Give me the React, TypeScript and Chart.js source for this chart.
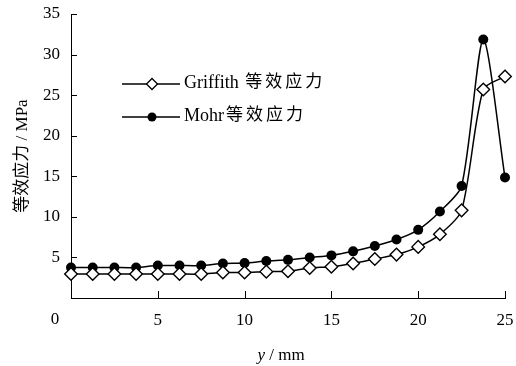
import React, { useEffect, useRef } from 'react';
import { Chart, registerables } from 'chart.js';

Chart.register(...registerables);

// ---- data ----
const xValues = [0, 1.25, 2.5, 3.75, 5, 6.25, 7.5, 8.75, 10, 11.25, 12.5, 13.75, 15, 16.25, 17.5, 18.75, 20, 21.25, 22.5, 23.75, 25];
const griffithValues = [2.95, 2.95, 2.95, 2.95, 2.95, 2.95, 2.95, 3.15, 3.15, 3.25, 3.3, 3.7, 3.85, 4.25, 4.8, 5.35, 6.3, 7.85, 10.8, 25.7, 27.3];
const mohrValues = [3.75, 3.75, 3.75, 3.75, 4.0, 4.0, 4.0, 4.25, 4.3, 4.55, 4.7, 5.0, 5.25, 5.75, 6.4, 7.2, 8.4, 10.65, 13.8, 31.85, 14.85];
const seriesLatin = ['Griffith ', 'Mohr'];
const seriesCJK = ['等效应力', '等效应力'];
const seriesNames = seriesLatin.map((s, i) => s + seriesCJK[i]);
const xTickValues = [0, 5, 10, 15, 20, 25];
const yTickValues = [5, 10, 15, 20, 25, 30, 35];
const yAxisTitle = '等效应力 / MPa';
const xAxisTitleVar = 'y';
const xAxisTitleUnit = ' / mm';

const FONT = "'Liberation Serif', 'Times New Roman', 'Noto Sans CJK SC', serif";

const toPoints = (ys: number[]) => ys.map((y, i) => ({ x: xValues[i], y }));

const zeroPad = (s: any) => {
  s.paddingTop = 0;
  s.paddingBottom = 0;
  s.paddingLeft = 0;
  s.paddingRight = 0;
};

const decorPlugin = {
  id: 'decor',
  afterDraw(chart: any) {
    const ctx = chart.ctx as CanvasRenderingContext2D;
    const xs = chart.scales.x;
    const ys = chart.scales.y;
    const area = chart.chartArea;
    ctx.save();
    ctx.strokeStyle = '#000';
    ctx.lineWidth = 1;
    // inward ticks
    ctx.beginPath();
    xTickValues.forEach((v) => {
      if (v === xs.min) return;
      const px = Math.round(xs.getPixelForValue(v)) + 0.5;
      ctx.moveTo(px, area.bottom);
      ctx.lineTo(px, area.bottom - 7);
    });
    yTickValues.forEach((v) => {
      const py = Math.round(ys.getPixelForValue(v)) + 0.5;
      ctx.moveTo(area.left, py);
      ctx.lineTo(area.left + 6, py);
    });
    ctx.stroke();

    const italic = `italic 17px ${FONT}`;
    const normal = `17px ${FONT}`;

    // origin label (placed left of the corner as in the original)
    ctx.fillStyle = '#000';
    ctx.font = normal;
    ctx.textAlign = 'center';
    ctx.textBaseline = 'middle';
    ctx.fillText(String(xTickValues[0]), xs.getPixelForValue(xTickValues[0]) - 16, 320);

    // x axis title with italic variable
    ctx.font = italic;
    const w1 = ctx.measureText(xAxisTitleVar).width;
    ctx.font = normal;
    const w2 = ctx.measureText(xAxisTitleUnit).width;
    const cx = (area.left + area.right) / 2 - 7;
    const tx = cx - (w1 + w2) / 2;
    ctx.textAlign = 'left';
    ctx.font = italic;
    ctx.fillText(xAxisTitleVar, tx, 356);
    ctx.font = normal;
    ctx.fillText(xAxisTitleUnit, tx + w1, 356);

    // legend
    const rows = [
      { i: 0, y: 84, ds: chart.data.datasets[0] },
      { i: 1, y: 117, ds: chart.data.datasets[1] },
    ];
    rows.forEach((r) => {
      ctx.beginPath();
      ctx.strokeStyle = '#000';
      ctx.lineWidth = 1.5;
      ctx.moveTo(122, r.y);
      ctx.lineTo(180, r.y);
      ctx.stroke();
      if (r.ds.pointStyle === 'rectRot') {
        ctx.beginPath();
        const s = 5.5;
        ctx.moveTo(152, r.y - s);
        ctx.lineTo(152 + s, r.y);
        ctx.lineTo(152, r.y + s);
        ctx.lineTo(152 - s, r.y);
        ctx.closePath();
        ctx.fillStyle = '#fff';
        ctx.fill();
        ctx.lineWidth = 1.3;
        ctx.stroke();
      } else {
        ctx.beginPath();
        ctx.arc(152, r.y, 4.5, 0, Math.PI * 2);
        ctx.fillStyle = '#000';
        ctx.fill();
      }
      ctx.fillStyle = '#000';
      ctx.textAlign = 'left';
      ctx.textBaseline = 'middle';
      ctx.font = `18px ${FONT}`;
      const lat = seriesLatin[r.i];
      ctx.fillText(lat, 184, r.y - 1);
      const lw = ctx.measureText(lat).width;
      ctx.font = `17px ${FONT}`;
      (ctx as any).letterSpacing = '3px';
      ctx.fillText(seriesCJK[r.i], 184 + lw + 2, r.y - 1);
      (ctx as any).letterSpacing = '0px';
    });
    ctx.restore();
  },
};

export default function App() {
  const ref = useRef<HTMLCanvasElement | null>(null);
  useEffect(() => {
    if (!ref.current) return;
    const chart = new Chart(ref.current, {
      type: 'line',
      data: {
        datasets: [
          {
            label: seriesNames[0],
            data: toPoints(griffithValues),
            borderColor: '#000',
            borderWidth: 1.5,
            backgroundColor: '#fff',
            pointStyle: 'rectRot',
            pointRadius: 6.3,
            pointBorderWidth: 1.4,
            pointBorderColor: '#000',
            pointBackgroundColor: '#fff',
            tension: 0.25,
            clip: false as any,
          },
          {
            label: seriesNames[1],
            data: toPoints(mohrValues),
            borderColor: '#000',
            borderWidth: 1.5,
            backgroundColor: '#000',
            pointStyle: 'circle',
            pointRadius: 5,
            pointBorderWidth: 0,
            pointBackgroundColor: '#000',
            tension: 0.25,
            clip: false as any,
          },
        ],
      },
      options: {
        animation: false,
        responsive: false,
        maintainAspectRatio: false,
        layout: { padding: { left: 0, top: 14, right: 11, bottom: 0 } },
        plugins: {
          legend: { display: false },
          tooltip: { enabled: false },
        },
        scales: {
          x: {
            type: 'linear',
            min: 0,
            max: 25,
            grid: { display: false, drawTicks: false },
            border: { display: true, color: '#000', width: 1 },
            afterBuildTicks: (s: any) => {
              s.ticks = xTickValues.map((v) => ({ value: v }));
            },
            ticks: {
              color: '#000',
              padding: 12,
              maxRotation: 0,
              font: { family: FONT, size: 17 },
              callback: (v: any) => (v === xTickValues[0] ? '' : String(v)),
            },
            afterFit: (s: any) => {
              s.height = 68;
              zeroPad(s);
            },
          },
          y: {
            type: 'linear',
            min: 0,
            max: 35,
            grid: { display: false, drawTicks: false },
            border: { display: true, color: '#000', width: 1 },
            afterBuildTicks: (s: any) => {
              s.ticks = [0, ...yTickValues].map((v) => ({ value: v }));
            },
            ticks: {
              color: '#000',
              padding: 11,
              font: { family: FONT, size: 17 },
              callback: (v: any) => (v === 0 ? '' : String(v)),
            },
            title: {
              display: true,
              text: yAxisTitle,
              color: '#000',
              font: { family: FONT, size: 17 },
              padding: { top: 12, bottom: 0 },
            },
            afterFit: (s: any) => {
              s.width = 71;
              zeroPad(s);
            },
          },
        },
      },
      plugins: [decorPlugin],
    });
    return () => chart.destroy();
  }, []);
  return (
    <div style={{ position: 'fixed', left: 0, top: 0, width: 516, height: 366, background: '#fff' }}>
      <canvas ref={ref} width={516} height={366} style={{ width: 516, height: 366 }} />
    </div>
  );
}
